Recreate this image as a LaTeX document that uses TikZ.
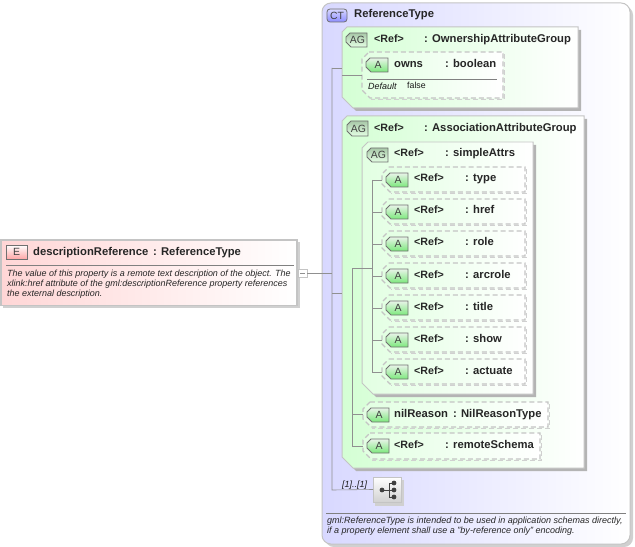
\documentclass[tikz,border=0pt]{standalone}
\usepackage{fontspec}
\setmainfont{Liberation Sans}
\usetikzlibrary{calc}
\definecolor{ctleft}{HTML}{D8D8FF}
\definecolor{agleft}{HTML}{D4FFD4}
\definecolor{innerleft}{HTML}{E2FFE2}
\definecolor{eleft}{HTML}{FFD6D6}
\definecolor{edgegrey}{HTML}{C4C4C4}
\definecolor{conn}{HTML}{909090}
\definecolor{shadowgrey}{HTML}{B4B4B4}
\definecolor{softshadow}{HTML}{D0D0D0}
\definecolor{badgeline}{HTML}{707070}
\definecolor{agtop}{HTML}{A8C8A8}
\definecolor{agbot}{HTML}{E4FFE4}
\definecolor{atop}{HTML}{E8F4E8}
\definecolor{abot}{HTML}{7CE87C}
\tikzset{
  conline/.style={draw=conn,line width=0.6pt},
  ctbox/.style={draw=edgegrey,line width=1pt,left color=ctleft,right color=white},
  agbox/.style={draw=edgegrey,line width=1pt,left color=agleft,right color=white},
  agwhite/.style={draw=edgegrey,line width=1pt,left color=innerleft,right color=white},
  attrbox/.style={draw=edgegrey,line width=1.1pt,dash pattern=on 5pt off 3pt,left color=innerleft,right color=white},
  attrshadow/.style={draw=softshadow,line width=1.1pt,dash pattern=on 5pt off 3pt},
  ebox/.style={draw=edgegrey,line width=1.2pt,left color=eleft,right color=white},
  shadowbox/.style={fill=shadowgrey,draw=none},
  refname/.style={font=\fontsize{10.7}{12}\selectfont\bfseries,text=black!85,anchor=base west,inner sep=0pt},
  title/.style={font=\fontsize{11.3}{12}\selectfont\bfseries,text=black!85,anchor=base west,inner sep=0pt},
  doc/.style={font=\fontsize{9}{10.2}\selectfont\itshape,text=black!85,anchor=base west,inner sep=0pt},
  foot/.style={font=\fontsize{9.05}{10}\selectfont\itshape,text=black!85,anchor=base west,inner sep=0pt},
  small/.style={font=\fontsize{9}{10}\selectfont\itshape,text=black!90,anchor=base west,inner sep=0pt},
  smallval/.style={font=\fontsize{8.8}{10}\selectfont,text=black!90,anchor=base west,inner sep=0pt},
  badgetxt/.style={font=\fontsize{10.5}{12}\selectfont,text=black!75,inner sep=0pt},
  anchorbox/.style={inner sep=0pt,outer sep=0pt,draw=none,fill=none},
  divider/.style={draw=black!50,line width=0.6pt},
}
% \cutbox{name}{x1}{y1}{x2}{y2}{style}{top-left cut}{bottom-left cut}
\newcommand{\cutbox}[8]{%
  \fill[shadowbox] ({#2+#7+3},{#3+3}) -- ({#4+3},{#3+3}) -- ({#4+3},{#5+3}) -- ({#2+#8+3},{#5+3}) -- ({#2+3},{#5-#8+3}) -- ({#2+3},{#3+#7+3}) -- cycle;
  \path[#6] ({#2+#7},#3) -- (#4,#3) -- (#4,#5) -- ({#2+#8},#5) -- (#2,{#5-#8}) -- (#2,{#3+#7}) -- cycle;
  \node[anchorbox,minimum width={(#4-#2)*1bp},minimum height={(#5-#3)*1bp}] (#1) at ({(#2+#4)/2},{(#3+#5)/2}) {};
}
% \badge{x1}{y1}{x2}{y2}{text}{top colour}{bottom colour}
\newcommand{\badge}[7]{%
  \path[draw=badgeline,line width=0.8pt,top color=#6,bottom color=#7]
    ({#1+4},#2) -- (#3,#2) -- (#3,#4) -- ({#1+5},#4) -- (#1,{#4-5}) -- (#1,{#2+4}) -- cycle;
  \node[badgetxt] at ({(#1+#3)/2+1},{(#2+#4)/2+0.3}) {#5};
}
\newcommand{\attr}[6]{% name x1 y1 x2 y2 label
  \path[attrshadow] (#4+1.5,#3+2) -- (#4+1.5,#5+1.5) -- ({#2+9},#5+1.5);
  \path[attrbox] ({#2+7},#3) -- (#4,#3) -- (#4,#5) -- ({#2+8},#5) -- (#2,{#5-8}) -- (#2,{#3+7}) -- cycle;
  \node[anchorbox,minimum width={(#4-#2)*1bp},minimum height={(#5-#3)*1bp}] (#1) at ({(#2+#4)/2},{(#3+#5)/2}) {};
  \badge{#2+4}{#3+6}{#2+26}{#3+20}{A}{atop}{abot}
  #6
}
\begin{document}
\begin{tikzpicture}[x=1bp,y=-1bp]
\useasboundingbox (0,0) rectangle (635,547);
\fill[white] (0,0) rectangle (635,547);

% complex type
\fill[softshadow,rounded corners=9pt] (325,6) -- (633,6) -- (633,547) -- (325,547) -- cycle;
\path[ctbox,rounded corners=9pt] (322,3) -- (630,3) -- (630,544) -- (322,544) -- cycle;
\node[anchorbox,minimum width=308bp,minimum height=541bp] (ct) at (476,273.5) {};
\path[draw=badgeline,line width=0.8pt,top color=ctleft,bottom color=blue!45,rounded corners=3pt] (327,9) rectangle (347,22);
\node[badgetxt] at (337,15.7) {CT};
\node[title] at (354,17.3) {ReferenceType};

\coordinate (spine) at (332,273);

% ownership group
\cutbox{own}{342}{27}{578}{108}{agbox}{5}{11}
\badge{346}{33}{367}{47}{AG}{agtop}{agbot}
\node[refname] at (374,43) {<Ref>};
\node[title] at (424,43) {: OwnershipAttributeGroup};
\attr{owns}{362}{52}{503}{98}{
  \node[title] at (394,68) {owns};
  \node[title] at (445,68) {: boolean};
}
\draw[divider] (367,79) -- (497,79);
\node[small] at (368,90) {Default};
\node[smallval] at (407,89) {false};

% association group
\cutbox{assoc}{342}{116}{584}{468}{agbox}{5}{11}
\badge{347}{121}{368}{136}{AG}{agtop}{agbot}
\node[refname] at (374,131.5) {<Ref>};
\node[title] at (424,131.5) {: AssociationAttributeGroup};

% simpleAttrs
\cutbox{simple}{362}{142}{533}{394}{agwhite}{6}{11}
\badge{367}{148}{388}{162}{AG}{agtop}{agbot}
\node[refname] at (394,157) {<Ref>};
\node[title] at (445,157) {: simpleAttrs};

\attr{atype}{382}{167}{525}{192}{\node[refname] at (414,182) {<Ref>};\node[title] at (465,182) {: type};}
\attr{ahref}{382}{199}{525}{224}{\node[refname] at (414,214) {<Ref>};\node[title] at (465,214) {: href};}
\attr{arole}{382}{231}{525}{256}{\node[refname] at (414,246) {<Ref>};\node[title] at (465,246) {: role};}
\attr{aarc}{382}{263}{525}{288}{\node[refname] at (414,278) {<Ref>};\node[title] at (465,278) {: arcrole};}
\attr{atitle}{382}{295}{525}{320}{\node[refname] at (414,310) {<Ref>};\node[title] at (465,310) {: title};}
\attr{ashow}{382}{327}{525}{352}{\node[refname] at (414,342) {<Ref>};\node[title] at (465,342) {: show};}
\attr{aact}{382}{359}{525}{384}{\node[refname] at (414,374) {<Ref>};\node[title] at (465,374) {: actuate};}

\attr{anil}{363}{402}{548}{427}{\node[title] at (394,417) {nilReason};\node[title] at (453,417) {: NilReasonType};}
\attr{aremote}{363}{433}{540}{459}{\node[refname] at (394,448) {<Ref>};\node[title] at (445,448) {: remoteSchema};}

% sequence compositor
\fill[softshadow] (375,480) rectangle (404,506);
\node[anchorbox,minimum width=28bp,minimum height=25bp,draw=edgegrey,top color=white,bottom color=black!18,line width=0.8pt] (seq) at (387,489.5) {};
\fill[black!75] (382,490) circle (2.4bp) (394,483) circle (2.4bp) (394,490) circle (2.4bp) (394,497) circle (2.4bp);
\draw[black!75,line width=1pt] (382,490) -- (394,490) (389,483) -- (389,497) (389,483) -- (394,483) (389,497) -- (394,497);
\node[small] at (342,487) {[1]..[1]};

% connectors
\draw[conline] (332,68) -- (own.west |- 0,68);
\draw[conline] (332,68) -- (332,490) -- (seq.west);
\draw[conline] (332,293) -- (assoc.west |- 0,293);
\draw[conline] (own.west |- 0,75) -- (owns.west |- 0,75);
\draw[conline] (352,268) -- (352,446) -- (aremote.west |- 0,446);
\draw[conline] (352,268) -- (372,268);
\draw[conline] (352,414) -- (anil.west |- 0,414);
\draw[conline] (372,180) -- (372,372);
\foreach \n/\yy in {atype/180,ahref/212,arole/244,aarc/276,atitle/308,ashow/340,aact/372}{
  \draw[conline] (372,\yy) -- (\n.west |- 0,\yy);
}

% description below
\draw[divider] (326,513) -- (626,513);
\node[foot] at (327,523.5) {gml:ReferenceType is intended to be used in application schemas directly,};
\node[foot] at (327,533.5) {if a property element shall use a "by-reference only" encoding.};

% element
\fill[softshadow] (3,242) rectangle (300,308);
\path[ebox] (1,240) rectangle (297,305.5);
\node[anchorbox,minimum width=296bp,minimum height=65bp] (elem) at (149,272.5) {};
\path[draw=badgeline,line width=0.8pt,top color=white,bottom color=red!35] (6,245) rectangle (27,259);
\node[badgetxt] at (16.5,252.3) {E};
\node[title] at (33,255.5) {descriptionReference};
\node[title] at (153,255.5) {: ReferenceType};
\draw[divider] (6,265) -- (294,265);
\node[doc] at (7,276) {The value of this property is a remote text description of the object. The};
\node[doc] at (7,286) {xlink:href attribute of the gml:descriptionReference property references};
\node[doc] at (7,296) {the external description.};
\node[anchorbox,minimum width=9bp,minimum height=8bp,draw=edgegrey,fill=white,line width=0.8pt] (toggle) at (302.5,273) {};
\draw[conn,line width=0.6pt] (300,273) -- (305,273);
\draw[conline] (toggle.east) -- (spine);
\end{tikzpicture}
\end{document}
